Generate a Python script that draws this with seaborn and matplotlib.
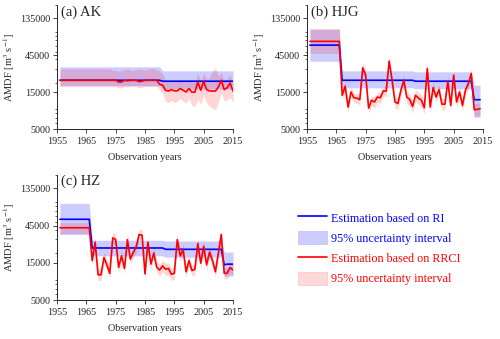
import numpy as np
import pandas as pd
import seaborn as sns
import matplotlib.pyplot as plt
from matplotlib.lines import Line2D
from matplotlib.patches import Patch
from matplotlib.ticker import FixedLocator, LogLocator, NullFormatter, FixedFormatter

# ---- AK (1956-2015) ----
ak_years = list(range(1956, 2016))
ak_ri = [21400] * 35 + [20800] * 25
ak_ri_lo = [18200] * 35 + [16500] * 25
ak_ri_hi = [31900] * 35 + [28300] * 25
ak_rrci = ([21400] * 20
           + [20300, 20300, 21400, 21000, 21400, 21400, 21400, 20500, 20800, 21400,
              21400, 21400, 21400, 21400]
           + [19000, 18500, 15900, 15500, 16200, 15600, 15600, 16700, 15900, 15100,
              16700, 15000, 15000, 20300, 15900, 20800, 16200, 15600, 15500, 15500,
              17500, 21400, 16200, 17100, 19700, 15500])
ak_rrci_lo = ([17800] * 20
              + [17000, 17000, 17800, 17500, 17800, 17800, 17800, 17200, 17400, 17800,
                 17800, 17800, 17800, 17800]
              + [16000, 14500, 11500, 11000, 11800, 11000, 11500, 12500, 11500, 10800,
                 12500, 10000, 9800, 12000, 10500, 13500, 11000, 10000, 9200, 9000,
                 11000, 15000, 11500, 12000, 13000, 11000])
ak_rrci_hi = ([30000] * 18
              + [28500, 29000, 28000, 28500, 29500, 30000, 29000, 28500, 29500, 30000,
                 29500, 29000, 30000, 30500, 30000, 29500]
              + [28000, 26000, 21000, 20500, 21500, 20000, 21000, 22000, 21000, 20000,
                 22500, 20000, 20500, 26000, 21000, 26500, 22000, 23000, 28000, 31000,
                 24000, 27000, 21500, 22500, 25000, 20000])

# ---- HJG (1956-2014) ----
hjg_years = list(range(1956, 2015))
hjg_ri = [60800] * 11 + [21400] * 25 + [20800] * 20 + [12000] * 3
hjg_ri_lo = [37700] * 11 + [17100] * 25 + [16600] * 20 + [7150] * 3
hjg_ri_hi = [97000] * 11 + [28300] * 25 + [27500] * 20 + [18500] * 3
hjg_rrci = ([68000] * 11
            + [13700, 17900, 9640, 15100, 12700, 12600, 12000, 31000, 24900, 9360,
               11800, 11200, 13000, 12700, 15600, 15500, 37800, 21400, 11200, 10700,
               15900, 21400, 13000, 12100, 9840, 13700, 12600, 11800, 9450, 30300,
               9640, 17200, 13000, 16200, 10500, 10500, 20800, 10100, 24900, 11200,
               15100, 10100, 15900, 19400, 26100, 8910, 9000, 9180])
hjg_rrci_lo = ([47500] * 11
               + [12000, 15500, 8300, 13000, 11000, 10800, 10300, 27000, 21500, 8000,
                  10000, 9500, 11000, 10800, 13300, 13200, 32500, 18200, 9400, 9000,
                  13300, 18000, 10800, 10000, 8100, 11300, 10400, 9700, 7800, 25500,
                  8100, 14500, 11000, 13700, 8900, 8900, 17600, 8500, 21000, 9400,
                  12800, 8500, 13400, 16400, 22000, 7300, 7400, 7500])
hjg_rrci_hi = ([100000] * 11
               + [16000, 20500, 11000, 17500, 14500, 14500, 13800, 36000, 28500, 10800,
                  13500, 13000, 15000, 14700, 18000, 18000, 44000, 24800, 13000, 12500,
                  18500, 25000, 15200, 14300, 11700, 16200, 15000, 14000, 11300, 35500,
                  11400, 20300, 15300, 19000, 12400, 12400, 24400, 11900, 29200, 13200,
                  17800, 11900, 18700, 22800, 30600, 10700, 10800, 11000])

# ---- HZ (1956-2015) ----
hz_years = list(range(1956, 2016))
hz_ri = [54100] * 11 + [23200] * 25 + [22300] * 20 + [14100] + [14400] * 3
hz_ri_lo = [34500] * 11 + [18400] * 25 + [17700] * 20 + [10100] * 4
hz_ri_hi = [86500] * 11 + [29100] * 25 + [28500] * 20 + [20600] * 4
hz_rrci = ([42100] * 11
           + [16000, 27500, 10500, 10500, 17500, 14100, 11000, 31300, 29700, 13100,
              18400, 12700, 29700, 16700, 20300, 23900, 34500, 33800, 10800, 27500,
              14400, 20000, 13100, 12100, 13700, 12400, 12700, 10700, 11000, 29700,
              18400, 22100, 11500, 16000, 11900, 12400, 26400, 14800, 24400, 14100,
              20600, 16000, 11500, 20000, 34500, 11000, 11000, 13000, 12100])
hz_rrci_lo = ([35500] * 11
              + [13600, 23500, 8900, 8900, 14900, 12000, 9300, 26600, 25300, 11100,
                 15600, 10800, 25300, 14200, 17200, 20300, 29300, 28700, 9200, 23400,
                 12200, 17000, 11000, 10100, 11500, 10300, 10600, 8900, 9200, 25200,
                 15600, 18800, 9700, 13600, 10100, 10500, 22400, 12600, 20700, 12000,
                 17500, 13600, 9700, 17000, 29300, 9300, 9300, 11000, 10300])
hz_rrci_hi = ([48900] * 11
              + [18800, 32000, 12400, 12400, 20600, 16600, 13000, 36800, 35000, 15400,
                 21700, 15000, 35000, 19700, 23900, 28100, 40600, 39800, 12700, 32400,
                 17000, 23600, 15500, 14400, 16300, 14800, 15100, 12800, 13100, 35000,
                 21700, 26000, 13600, 18800, 14000, 14600, 31100, 17400, 28700, 16600,
                 24300, 18800, 13600, 23600, 40600, 13000, 13000, 15300, 14300])

panels = [
    ("(a) AK", ak_years, ak_ri, ak_ri_lo, ak_ri_hi, ak_rrci, ak_rrci_lo, ak_rrci_hi),
    ("(b) HJG", hjg_years, hjg_ri, hjg_ri_lo, hjg_ri_hi, hjg_rrci, hjg_rrci_lo, hjg_rrci_hi),
    ("(c) HZ", hz_years, hz_ri, hz_ri_lo, hz_ri_hi, hz_rrci, hz_rrci_lo, hz_rrci_hi),
]

sns.set_style("ticks")
plt.rcParams['font.family'] = ['Liberation Serif', 'DejaVu Serif']
plt.rcParams['mathtext.fontset'] = 'stix'

fig = plt.figure(figsize=(5, 3.39), dpi=100)
boxes = [[0.114, 0.619, 0.352, 0.366],
         [0.614, 0.619, 0.352, 0.366],
         [0.114, 0.115, 0.352, 0.369]]

blue = '#0000FF'
red = '#FF0000'
yticks = [5000, 15000, 45000, 135000]

for box, (title, years, ri, ri_lo, ri_hi, rr, rr_lo, rr_hi) in zip(boxes, panels):
    ax = fig.add_axes(box)
    ax.fill_between(years, ri_lo, ri_hi, color=blue, alpha=0.2, linewidth=0)
    ax.fill_between(years, rr_lo, rr_hi, color=red, alpha=0.16, linewidth=0)
    sns.lineplot(x=years, y=ri, color=blue, linewidth=1.2, ax=ax)
    sns.lineplot(x=years, y=rr, color=red, linewidth=1.2, ax=ax)
    ax.set_yscale('log')
    ax.set_ylim(5000, 200000)
    ax.set_xlim(1955, 2015)
    ax.yaxis.set_major_locator(FixedLocator(yticks))
    ax.yaxis.set_major_formatter(FixedFormatter([str(t) for t in yticks]))
    ax.yaxis.set_minor_locator(LogLocator(base=10, subs=np.arange(2, 10)))
    ax.yaxis.set_minor_formatter(NullFormatter())
    ax.set_xticks(range(1955, 2016, 10))
    ax.tick_params(axis='both', labelsize=7.3, direction='out', length=3, width=0.6, pad=2)
    ax.tick_params(axis='x', pad=3)
    ax.tick_params(axis='y', which='minor', length=1.5, width=0.5)
    sns.despine(ax=ax)
    for s in ['left', 'bottom']:
        ax.spines[s].set_linewidth(0.7)
    ax.set_xlabel("Observation years", fontsize=7.3, labelpad=5)
    ax.set_ylabel(r"AMDF [m$^3$ s$^{-1}$]", fontsize=7.5, labelpad=2)
    ax.text(0.02, 1.0, title, transform=ax.transAxes, fontsize=10.5, va='top', ha='left')

handles = [
    Line2D([], [], color=blue, linewidth=1.2),
    Patch(facecolor=(0.8, 0.8, 1.0), edgecolor=(0.75, 0.75, 0.95), linewidth=0.5),
    Line2D([], [], color=red, linewidth=1.2),
    Patch(facecolor=(1.0, 0.85, 0.85), edgecolor=(0.95, 0.78, 0.78), linewidth=0.5),
]
labels = ["Estimation based on RI", "95% uncertainty interval",
          "Estimation based on RRCI", "95% uncertainty interval"]
leg = fig.legend(handles, labels, loc='upper left', bbox_to_anchor=(0.575, 0.41),
                 frameon=False, fontsize=8.7, handlelength=2.4, handleheight=1.3,
                 handletextpad=0.3, labelspacing=0.55)
for txt, c in zip(leg.get_texts(), [blue, blue, red, red]):
    txt.set_color(c)

fig.savefig("out.png", dpi=100)
